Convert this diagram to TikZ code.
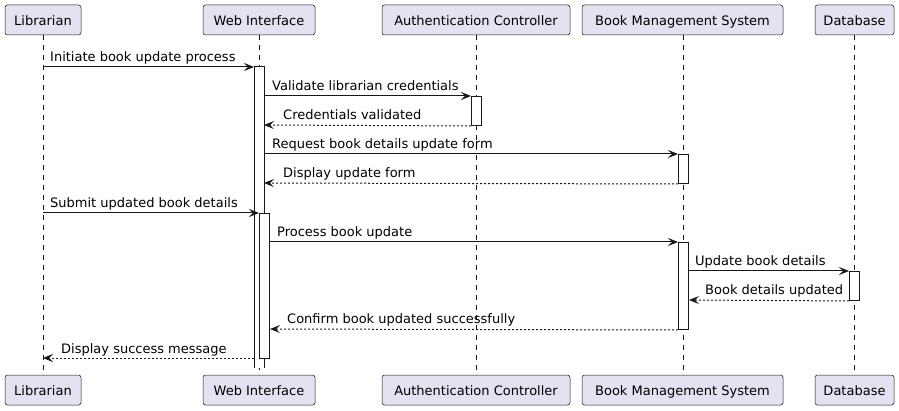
\documentclass[tikz,border=0pt]{standalone}
\usepackage{fontspec}
\setmainfont{DejaVu Sans}
\usetikzlibrary{arrows.meta}
\definecolor{ln}{HTML}{181818}
\definecolor{pfill}{HTML}{E2E2F0}
\tikzset{
  part/.style={draw=ln, fill=pfill, rounded corners=2.5pt, minimum height=30pt,
    inner sep=0pt, font=\fontsize{13}{15}\selectfont, line width=0.5pt,
    text height=12pt, text depth=1pt},
  lifeline/.style={draw=ln, line width=0.5pt, dash pattern=on 5pt off 5pt},
  act/.style={draw=ln, fill=white, line width=1pt, inner sep=0pt, minimum width=10pt, anchor=north west},
  msg/.style={draw=ln, line width=1pt, -{Stealth[length=10pt,width=8pt,inset=4pt]}},
  ret/.style={msg, dash pattern=on 2pt off 2pt},
  lbl/.style={font=\fontsize{13}{15}\selectfont, inner sep=0pt, anchor=base west, text=black},
}
\begin{document}
\begin{tikzpicture}[x=1pt,y=1pt]
\useasboundingbox (0,0) rectangle (899,-411);
% participants
\node[part, minimum width=76pt]  (Lt) at (43,-20)    {Librarian};
\node[part, minimum width=112pt] (Wt) at (259,-20)   {Web Interface};
\node[part, minimum width=188pt] (At) at (476,-20)   {Authentication Controller};
\node[part, minimum width=201pt] (Bt) at (682.5,-20) {Book Management System};
\node[part, minimum width=79pt]  (Dt) at (854.5,-20) {Database};
\node[part, minimum width=76pt]  (Lb) at (43,-390)    {Librarian};
\node[part, minimum width=112pt] (Wb) at (259,-390)   {Web Interface};
\node[part, minimum width=188pt] (Ab) at (476,-390)   {Authentication Controller};
\node[part, minimum width=201pt] (Bb) at (682.5,-390) {Book Management System};
\node[part, minimum width=79pt]  (Db) at (854.5,-390) {Database};
% lifelines
\draw[lifeline] (43,-35) -- (43,-375);
\draw[lifeline] (259,-35) -- (259,-375);
\draw[lifeline] (476,-35) -- (476,-375);
\draw[lifeline] (683,-35) -- (683,-375);
\draw[lifeline] (854,-35) -- (854,-375);
% activation bars
\fill[white] (254,-67) rectangle (264,-368);
\coordinate (wa) at (254,-67);
\draw[ln, line width=1pt] (254,-368) -- (254,-67) -- (264,-67) -- (264,-368);
\node[act, minimum height=145pt] (wb) at (259,-213) {};
\node[act, minimum height=29pt]  (aa) at (471,-96) {};
\node[act, minimum height=29pt]  (b1) at (678,-154) {};
\node[act, minimum height=87pt]  (b2) at (678,-242) {};
\node[act, minimum height=29pt]  (da) at (849,-271) {};
% messages
\draw[msg] (Lt.south |- 0,-67) -- (wa |- 0,-67);
\node[lbl] (m1) at (50,-62) {Initiate book update process};
\draw[msg] (264,-96) -- (aa.north west);
\node[lbl] (m2) at (272,-91) {Validate librarian credentials};
\draw[ret] (aa.south west) -- (264,-125);
\node[lbl] (m3) at (283,-120) {Credentials validated};
\draw[msg] (264,-154) -- (b1.north west);
\node[lbl] (m4) at (272,-149) {Request book details update form};
\draw[ret] (b1.south west) -- (264,-183);
\node[lbl] (m5) at (283,-178) {Display update form};
\draw[msg] (Lt.south |- 0,-213) -- (wb.north west);
\node[lbl] (m6) at (50,-208) {Submit updated book details};
\draw[msg] (wb.east |- 0,-242) -- (b2.north west);
\node[lbl] (m7) at (277,-237) {Process book update};
\draw[msg] (b2.east |- 0,-271) -- (da.north west);
\node[lbl] (m8) at (695,-266) {Update book details};
\draw[ret] (da.south west) -- (b2.east |- 0,-300);
\node[lbl] (m9) at (705,-295) {Book details updated};
\draw[ret] (b2.south west) -- (wb.east |- 0,-329);
\node[lbl] (m10) at (287,-324) {Confirm book updated successfully};
\draw[ret] (wa |- 0,-358) -- (Lt.south |- 0,-358);
\node[lbl] (m11) at (61,-353) {Display success message};
\end{tikzpicture}
\end{document}
